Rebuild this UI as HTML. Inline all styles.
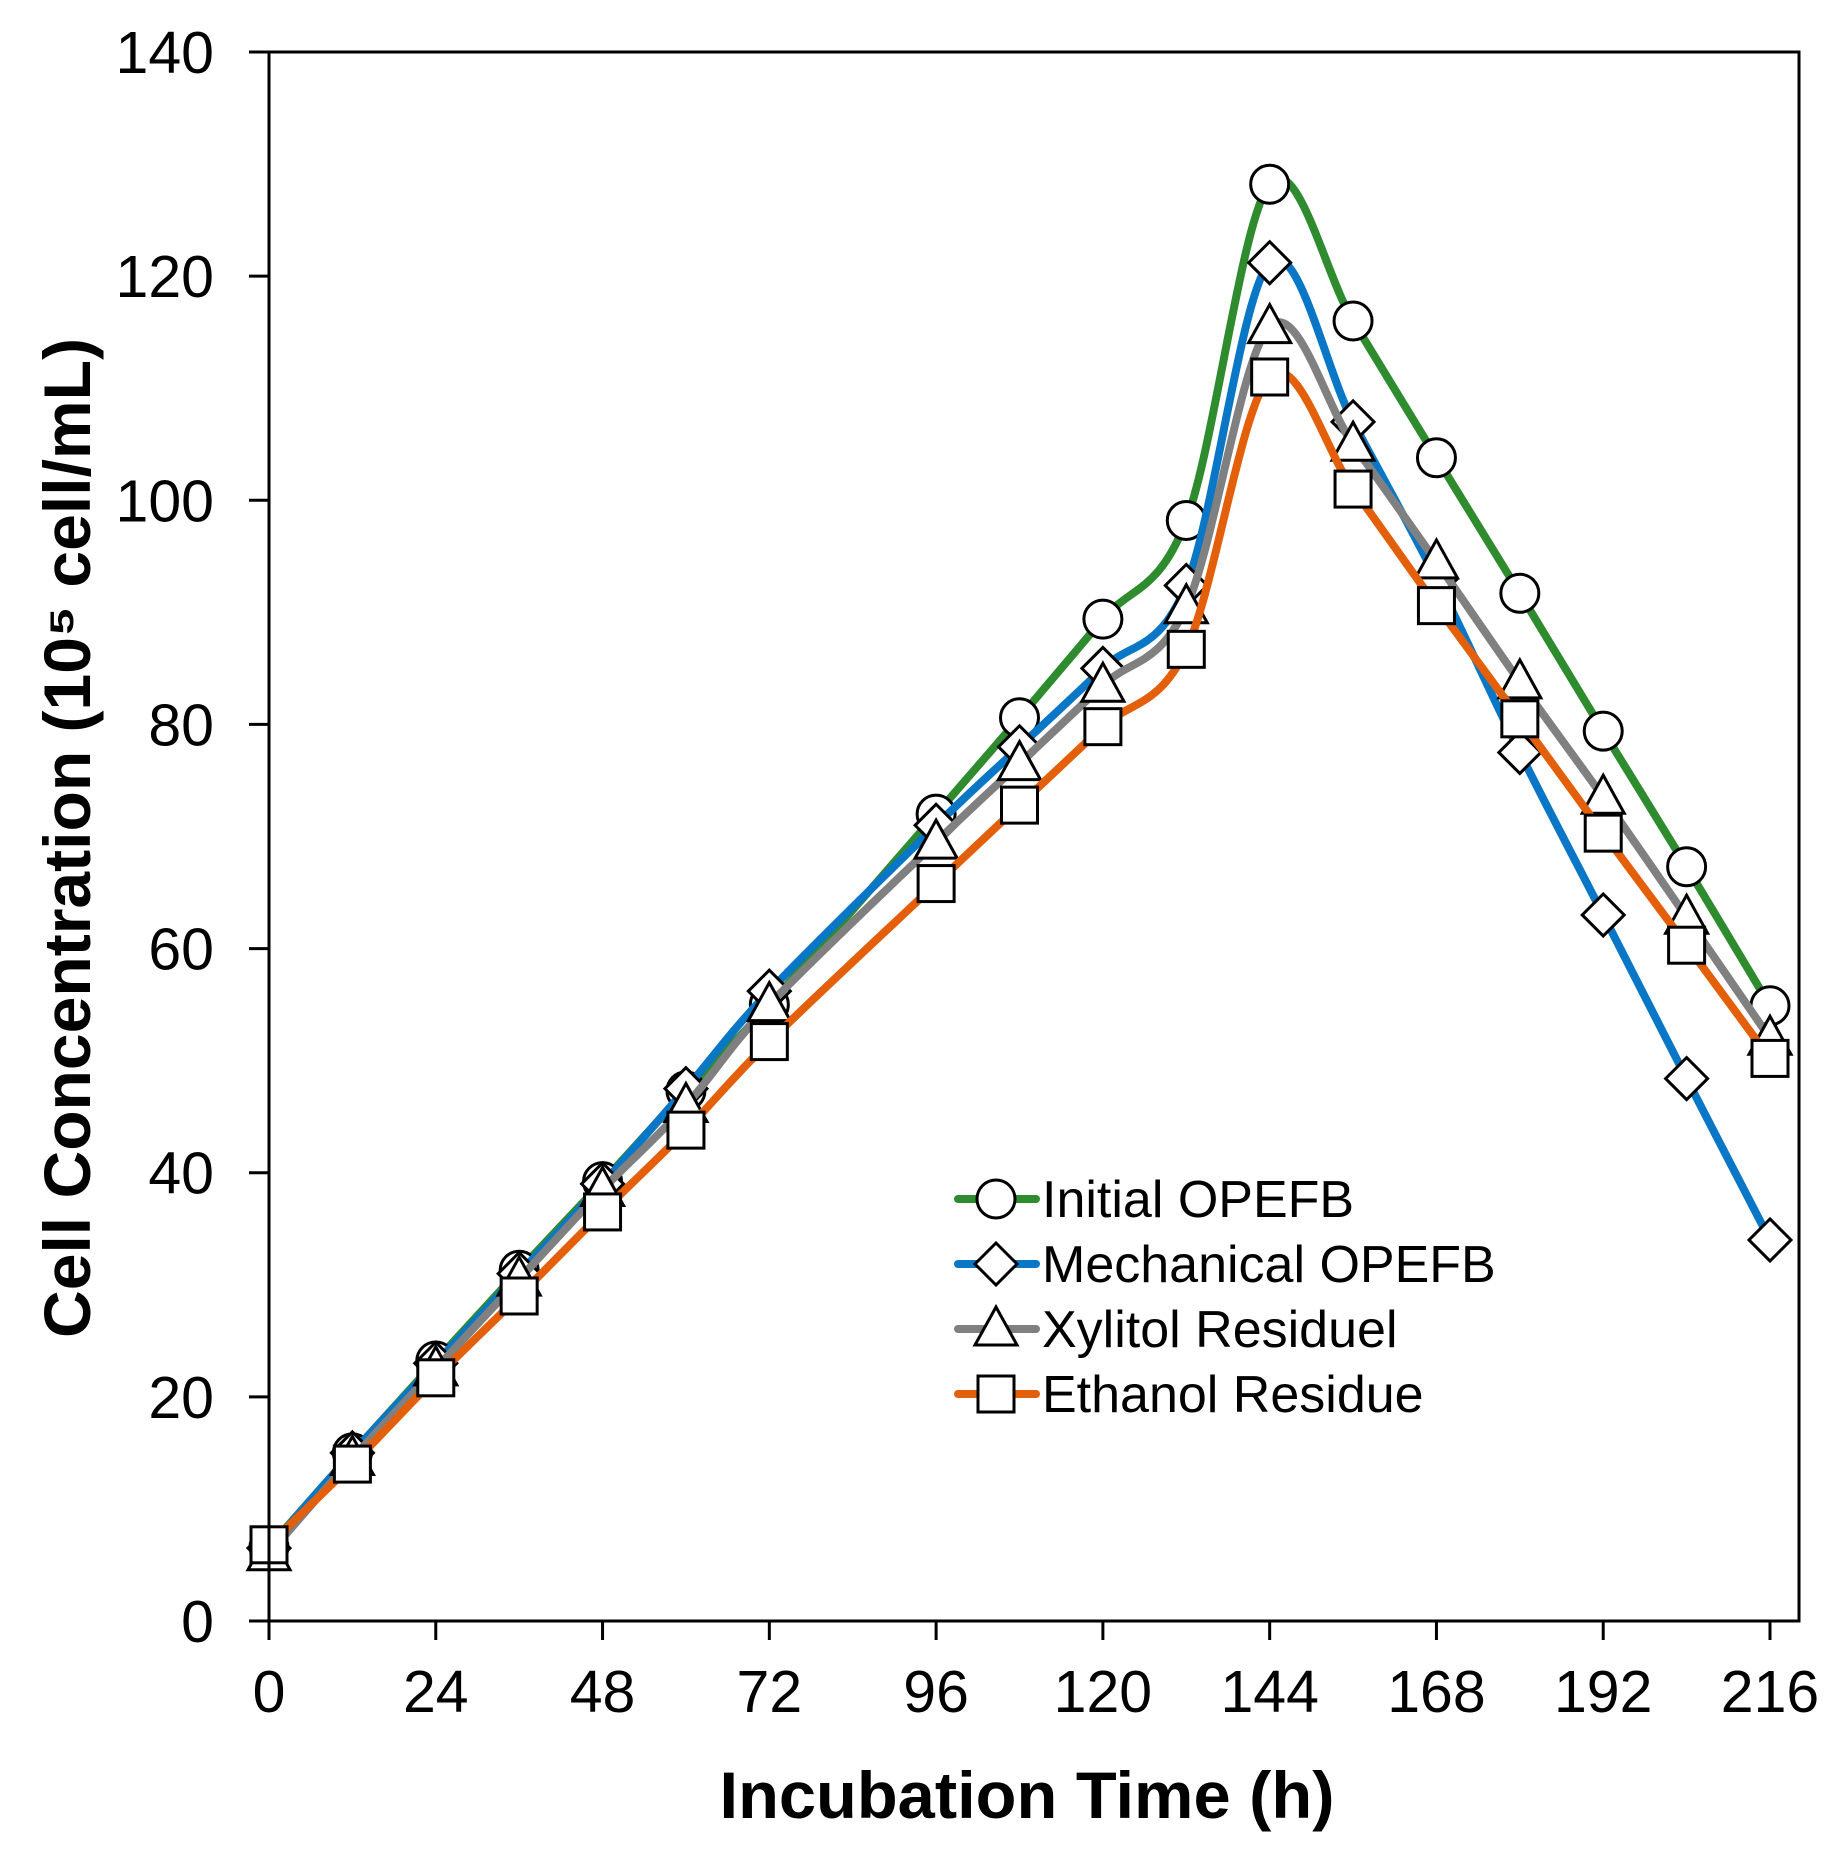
<!DOCTYPE html>
<html><head><meta charset="utf-8"><style>
html,body{margin:0;padding:0;background:#fff}
svg{display:block}
text{font-family:"Liberation Sans",Arial,sans-serif;fill:#000}
</style></head><body>
<svg id="chart" width="1836" height="1855" viewBox="0 0 1836 1855" xmlns="http://www.w3.org/2000/svg">
<g id="grid"></g>
<g id="series"></g>
<g id="axes"></g>
<g id="legend"></g>
<text x="1027" y="1818" text-anchor="middle" font-size="66" font-weight="bold" textLength="615" lengthAdjust="spacingAndGlyphs">Incubation Time (h)</text>
<text transform="translate(90,838) rotate(-90)" text-anchor="middle" font-size="66" font-weight="bold" textLength="1000" lengthAdjust="spacingAndGlyphs">Cell Concentration (10⁵ cell/mL)</text>
</svg>
<script>
const times=[0,12,24,36,48,60,72,96,108,120,132,144,156,168,180,192,204,216];
const initialVals=[6.6,15,23.2,31.3,39.2,47.3,55,72,80.6,89.4,98.2,128.2,116,103.8,91.7,79.4,67.3,54.9];
const mechanicalVals=[6.5,15,23,31,39,47.5,56.2,71,78,85,92.4,121.2,107,93,77.5,63,48.4,34];
const xylitolVals=[6,14.5,22.5,30.5,38.5,46,55,69.5,76.5,83.5,90.5,115.5,105,94.5,83.8,73.5,62.8,52];
const ethanolVals=[6.8,14,21.7,29,36.5,43.8,51.7,65.8,72.8,79.8,86.7,111,101,90.6,80.5,70.3,60.3,50.2];
const xTicks=[0,24,48,72,96,120,144,168,192,216];
const yTicks=[0,20,40,60,80,100,120,140];
const seriesNames=["Initial OPEFB","Mechanical OPEFB","Xylitol Residuel","Ethanol Residue"];

const NS="http://www.w3.org/2000/svg";
const X0=269,X1=1770,Y0=1621,Y1=52,RIGHT=1799;
function xs(v){return X0+(v/216)*(X1-X0);}
function ys(v){return Y0-(v/140)*(Y0-Y1);}
function mk(tag,attrs,parent){const e=document.createElementNS(NS,tag);for(const k in attrs)e.setAttribute(k,attrs[k]);parent.appendChild(e);return e;}

const axes=document.getElementById('axes');
let e;
e=mk('rect',{x:X0,y:Y1,width:RIGHT-X0,height:Y0-Y1,fill:'none',stroke:'#000','stroke-width':3},axes);


yTicks.forEach(t=>{
  const l=mk('line',{x1:249,x2:X0,y1:ys(t),y2:ys(t),stroke:'#000','stroke-width':3},axes);
  
  
  const tx=mk('text',{x:214,y:ys(t)+21,'text-anchor':'end','font-size':59},axes);
  tx.textContent=t;
  
  
});
xTicks.forEach(t=>{
  const l=mk('line',{x1:xs(t),x2:xs(t),y1:Y0,y2:1640,stroke:'#000','stroke-width':3},axes);
  
  
  const tx=mk('text',{x:xs(t),y:1712,'text-anchor':'middle','font-size':59},axes);
  tx.textContent=t;
  
  
});

function smooth(pts){
  let d='M'+pts[0][0]+','+pts[0][1];
  for(let i=0;i<pts.length-1;i++){
    const p0=pts[i-1]||pts[i],p1=pts[i],p2=pts[i+1],p3=pts[i+2]||p2;
    const c1=[p1[0]+(p2[0]-p0[0])/6,p1[1]+(p2[1]-p0[1])/6];
    const c2=[p2[0]-(p3[0]-p1[0])/6,p2[1]-(p3[1]-p1[1])/6];
    d+=' C'+c1[0]+','+c1[1]+' '+c2[0]+','+c2[1]+' '+p2[0]+','+p2[1];
  }
  return d;
}
function marker(type,cx,cy,parent){
  const st={fill:'#fff',stroke:'#000','stroke-width':3};
  let m;
  if(type==='circle')m=mk('circle',Object.assign({cx:cx,cy:cy,r:19},st),parent);
  else if(type==='diamond')m=mk('polygon',Object.assign({points:`${cx},${cy-21} ${cx+21},${cy} ${cx},${cy+21} ${cx-21},${cy}`},st),parent);
  else if(type==='triangle')m=mk('polygon',Object.assign({points:`${cx},${cy-22} ${cx+21},${cy+16} ${cx-21},${cy+16}`},st),parent);
  else m=mk('rect',Object.assign({x:cx-18,y:cy-18,width:36,height:36},st),parent);
  return m;
}
const seriesDefs=[
  {vals:initialVals,color:'#2e8b2e',m:'circle',name:'initial-opefb'},
  {vals:mechanicalVals,color:'#0a77c6',m:'diamond',name:'mechanical-opefb'},
  {vals:xylitolVals,color:'#808080',m:'triangle',name:'xylitol-residuel'},
  {vals:ethanolVals,color:'#e35f0a',m:'square',name:'ethanol-residue'}
];
const sg=document.getElementById('series');
seriesDefs.forEach(s=>{
  const g=mk('g',{},sg);
  
  
  const pts=times.map((t,i)=>[xs(t),ys(s.vals[i])]);
  const p=mk('path',{d:smooth(pts),fill:'none',stroke:s.color,'stroke-width':8,'stroke-linejoin':'round'},g);
  
  
  pts.forEach(pt=>{
    const m=marker(s.m,pt[0],pt[1],g);
    
    
  });
});
const lg=document.getElementById('legend');
seriesDefs.forEach((s,i)=>{
  const y=1199+i*65;
  const g=mk('g',{},lg);
  
  
  mk('line',{x1:958,x2:1036,y1:y,y2:y,stroke:s.color,'stroke-width':8,'stroke-linecap':'round'},g);
  marker(s.m,996,y,g);
  const t=mk('text',{x:1042,y:y+18,'font-size':52},g);
  t.textContent=seriesNames[i];
});
</script>
</body></html>
